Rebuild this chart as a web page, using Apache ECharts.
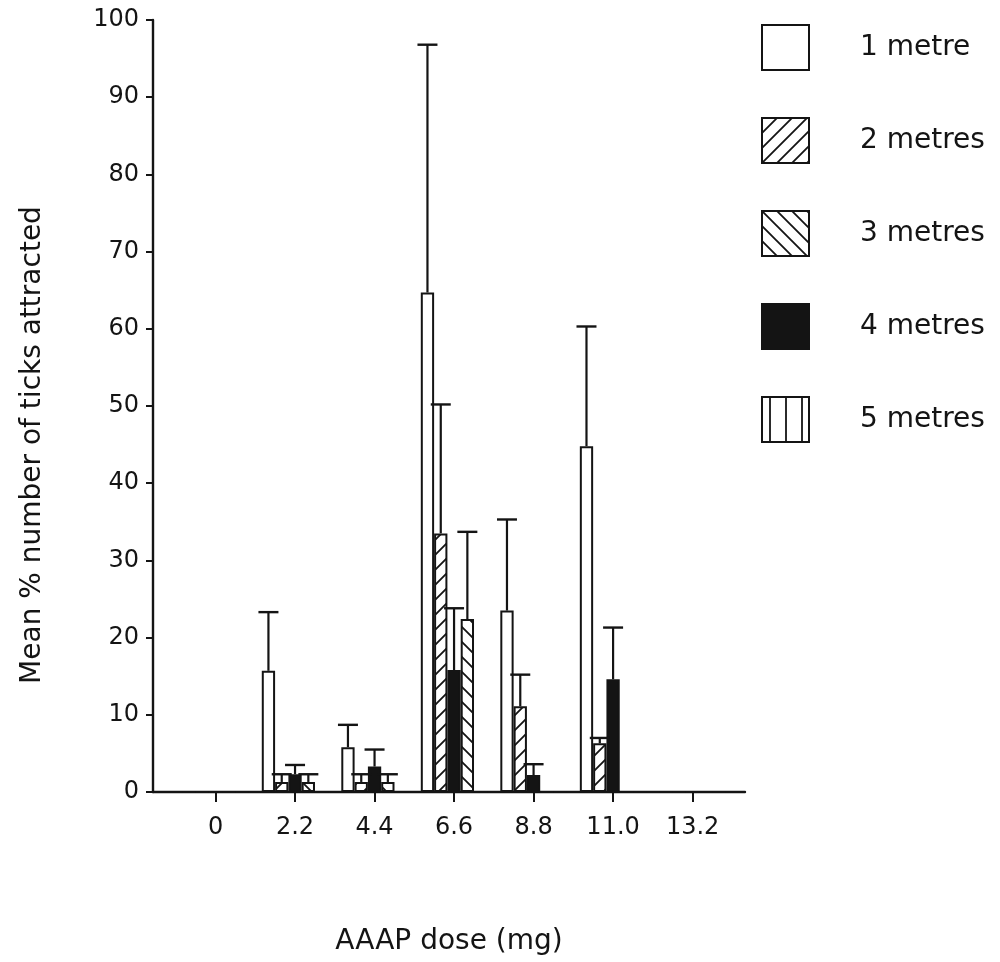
<!DOCTYPE html>
<html>
<head>
<meta charset="utf-8">
<script src="https://cdn.jsdelivr.net/npm/echarts@6/dist/echarts.min.js"></script>
<style>html,body{margin:0;padding:0;background:#fff}#c{width:1000px;height:962px}</style>
</head>
<body>
<div id="c"></div>
<script>
// ---- data ----
const doses = [0, 2.2, 4.4, 6.6, 8.8, 11.0, 13.2];
const doseLabels = ['0', '2.2', '4.4', '6.6', '8.8', '11.0', '13.2'];
const seriesNames = ['1 metre', '2 metres', '3 metres', '4 metres', '5 metres'];
const m1 = [0, 15.7, 5.8, 64.7, 23.5, 44.8, 0];
const m1Err = [0, 7.6, 2.9, 32.1, 11.8, 15.5, 0];
const m2 = [0, 1.3, 1.3, 33.5, 11.1, 6.3, 0];
const m2Err = [0, 1.0, 1.0, 16.7, 4.1, 0.7, 0];
const m3 = [0, 1.3, 1.3, 22.4, 0, 0, 0];
const m3Err = [0, 1.0, 1.0, 11.3, 0, 0, 0];
const m4 = [0, 2.3, 3.3, 15.8, 2.2, 14.6, 0];
const m4Err = [0, 1.2, 2.2, 8.0, 1.4, 6.7, 0];
const m5 = [0, 0, 0, 0, 0, 0, 0];
const m5Err = [0, 0, 0, 0, 0, 0, 0];

// ---- styles ----
const INK = '#141414';
const FONT = 'DejaVu Sans';
const BAR_W = 13.3;

function pattern(kind) {
  const s = kind === 'v' ? 16 : 15;
  const c = document.createElement('canvas');
  c.width = s; c.height = s;
  const g = c.getContext('2d');
  g.fillStyle = '#fff'; g.fillRect(0, 0, s, s);
  g.strokeStyle = INK; g.lineWidth = 1.8;
  g.beginPath();
  if (kind === '/') {
    g.moveTo(-2, s + 2); g.lineTo(s + 2, -2);
    g.moveTo(-2, 2); g.lineTo(2, -2);
    g.moveTo(s - 2, s + 2); g.lineTo(s + 2, s - 2);
  } else if (kind === '\\') {
    g.moveTo(-2, -2); g.lineTo(s + 2, s + 2);
    g.moveTo(s - 2, -2); g.lineTo(s + 2, 2);
    g.moveTo(-2, s - 2); g.lineTo(2, s + 2);
  } else if (kind === 'v') {
    g.moveTo(s / 2, 0); g.lineTo(s / 2, s);
  }
  g.stroke();
  return { image: c, repeat: 'repeat' };
}

// slot order inside each dose group, as in the original figure
const defs = [
  { name: seriesNames[0], vals: m1, err: m1Err, fill: '#ffffff', slot: -2 },
  { name: seriesNames[1], vals: m2, err: m2Err, fill: pattern('/'), slot: -1 },
  { name: seriesNames[3], vals: m4, err: m4Err, fill: INK, slot: 0 },
  { name: seriesNames[2], vals: m3, err: m3Err, fill: pattern('\\'), slot: 1 },
  { name: seriesNames[4], vals: m5, err: m5Err, fill: pattern('v'), slot: 2 }
];

const barSeries = defs.map(d => ({
  name: d.name,
  type: 'bar',
  barWidth: BAR_W,
  barGap: '0%',
  data: doses.map((x, i) => [x, d.vals[i]]),
  itemStyle: { color: d.fill, borderColor: INK, borderWidth: 2 },
  emphasis: { disabled: true },
  z: 2
}));

const errData = [];
defs.forEach(d => {
  doses.forEach((x, i) => {
    if (d.err[i] > 0) errData.push([x, d.vals[i], d.vals[i] + d.err[i], d.slot]);
  });
});

const errSeries = {
  type: 'custom',
  silent: true,
  z: 5,
  data: errData,
  renderItem: function (params, api) {
    const x = api.value(0);
    const p0 = api.coord([x, api.value(1)]);
    const p1 = api.coord([x, api.value(2)]);
    const cx = p0[0] + api.value(3) * BAR_W;
    const half = 10;
    return {
      type: 'group',
      children: [
        { type: 'line', shape: { x1: cx, y1: p0[1], x2: cx, y2: p1[1] }, style: { stroke: INK, lineWidth: 2.2 } },
        { type: 'line', shape: { x1: cx - half, y1: p1[1], x2: cx + half, y2: p1[1] }, style: { stroke: INK, lineWidth: 2.4 } }
      ]
    };
  }
};

const chart = echarts.init(document.getElementById('c'), null, { renderer: 'canvas' });
chart.setOption({
  backgroundColor: '#ffffff',
  animation: false,
  textStyle: { fontFamily: FONT, color: INK },
  legend: {
    data: seriesNames,
    orient: 'vertical',
    left: 761,
    top: 24,
    padding: 0,
    itemWidth: 47,
    itemHeight: 45,
    itemGap: 46,
    icon: 'rect',
    selectedMode: false,
    textStyle: { fontFamily: FONT, fontSize: 28, color: INK, padding: [0, 0, 0, 46] }
  },
  grid: { left: 153, right: 255, top: 20, bottom: 170, containLabel: false, outerBoundsMode: 'none' },
  xAxis: {
    type: 'value',
    min: -1.73,
    max: 14.65,
    name: 'AAAP dose (mg)',
    nameLocation: 'middle',
    nameGap: 136,
    nameTextStyle: { fontFamily: FONT, fontSize: 28, color: INK },
    splitLine: { show: false },
    axisLine: { show: true, lineStyle: { color: INK, width: 2.4 } },
    axisTick: { show: true, length: 10, customValues: doses, lineStyle: { color: INK, width: 2 } },
    axisLabel: {
      customValues: doses,
      fontFamily: FONT, fontSize: 24, color: INK, margin: 24,
      formatter: function (v) {
        let best = 0;
        doses.forEach((d, i) => { if (Math.abs(d - v) < Math.abs(doses[best] - v)) best = i; });
        return doseLabels[best];
      }
    }
  },
  yAxis: {
    type: 'value',
    min: 0,
    max: 100,
    interval: 10,
    name: 'Mean % number of ticks attracted',
    nameLocation: 'middle',
    nameGap: 106,
    nameRotate: 90,
    nameTextStyle: { fontFamily: FONT, fontSize: 28, color: INK, padding: [0, 78, 0, 0] },
    splitLine: { show: false },
    axisLine: { show: true, onZero: false, lineStyle: { color: INK, width: 2.4 } },
    axisTick: { show: true, length: 7, lineStyle: { color: INK, width: 2 } },
    axisLabel: { fontFamily: FONT, fontSize: 24, color: INK, margin: 14 }
  },
  series: barSeries.concat([errSeries])
});
</script>
</body>
</html>
